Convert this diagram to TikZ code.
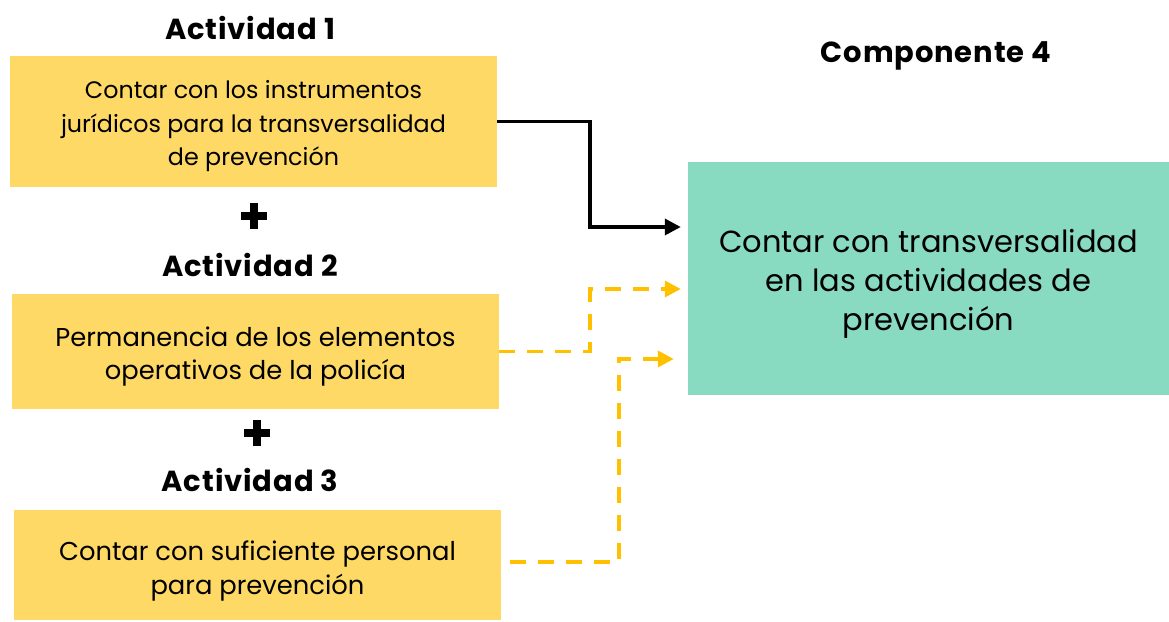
\documentclass[tikz,border=0pt]{standalone}
\usepackage{fontspec}
\setmainfont{Poppins}
\usetikzlibrary{arrows.meta,calc}
\definecolor{boxyellow}{RGB}{254,217,102}
\definecolor{boxgreen}{RGB}{136,218,192}
\definecolor{dashorange}{RGB}{255,192,0}
\begin{document}
\begin{tikzpicture}[x=1pt,y=1pt,
  actbox/.style={fill=boxyellow,draw=none,minimum width=487pt,inner sep=0pt},
  acttext/.style={align=center,font=\fontsize{#1}{33.5}\selectfont,inner sep=0pt},
  acttext/.default=24.5,
  compbox/.style={fill=boxgreen,draw=none,minimum width=481pt,minimum height=233pt,inner sep=0pt},
  comptext/.style={align=center,font=\fontsize{30.5}{39}\selectfont,inner sep=0pt},
  title/.style={font=\fontsize{29}{34}\selectfont\bfseries\addfontfeatures{LetterSpace=3},inner sep=0pt},
  solidlink/.style={line width=3.5pt,-{Triangle[length=16pt,width=16pt]},shorten >=7pt},
  dashlink/.style={line width=3.5pt,dashorange,dash pattern=on 16pt off 12pt,
    -{Triangle[length=16pt,width=16pt]}},
  plusmark/.style={fill=black,draw=none}
]
\useasboundingbox (0,0) rectangle (1169,621);
% titles
\node[title] (t1) at (250,593) {Actividad 1};
\node[title] (t2) at (250,356) {Actividad 2};
\node[title] (t3) at (250,141) {Actividad 3};
\node[title] (t4) at (936,565) {Componente 4};
% boxes
\node[actbox,minimum height=131pt] (b1) at (253.5,499.5) {};
\node[actbox,minimum height=115pt] (b2) at (255.5,269.5) {};
\node[actbox,minimum height=110pt] (b3) at (257.5,56) {};
\node[compbox] (g) at (928.5,342.5) {};
% box texts
\node[acttext=23.8] (b1t) at ($(b1)+(0,-5)$)
  {Contar con los instrumentos\\jurídicos para la transversalidad\\de prevención};
\node[acttext=25.8] (b2t) at ($(b2)+(0,-5)$)
  {Permanencia de los elementos\\operativos de la policía};
\node[acttext=25.8] (b3t) at ($(b3)+(0,-6)$)
  {Contar con suficiente personal\\para prevención};
\node[comptext] (gt) at ($(g)+(0,-5)$)
  {Contar con transversalidad\\en las actividades de\\prevención};
% plus signs
\fill[plusmark] (241,400.5) rectangle (267,409);
\fill[plusmark] (250,392) rectangle (258,417.5);
\fill[plusmark] (244,183.5) rectangle (270,192);
\fill[plusmark] (253,175) rectangle (261,200.5);
% target points on the component box
\coordinate (g1) at ($(g.west)+(0,51.5)$);
\coordinate (g2) at ($(g.west)+(0,-10.5)$);
\coordinate (g3) at ($(g.west)+(0,-80.5)$);
% connectors
\draw[solidlink] (b1.east) -- ++(93,0) |- (g1);
\draw[dashlink,shorten >=7pt] (b2.east) -- ++(91,0) |- (g2);
\draw[dashlink,shorten >=14pt,shorten <=9pt] ($(b3.east)+(0,3)$) -- ++(118,0) |- (g3);
\end{tikzpicture}
\end{document}
